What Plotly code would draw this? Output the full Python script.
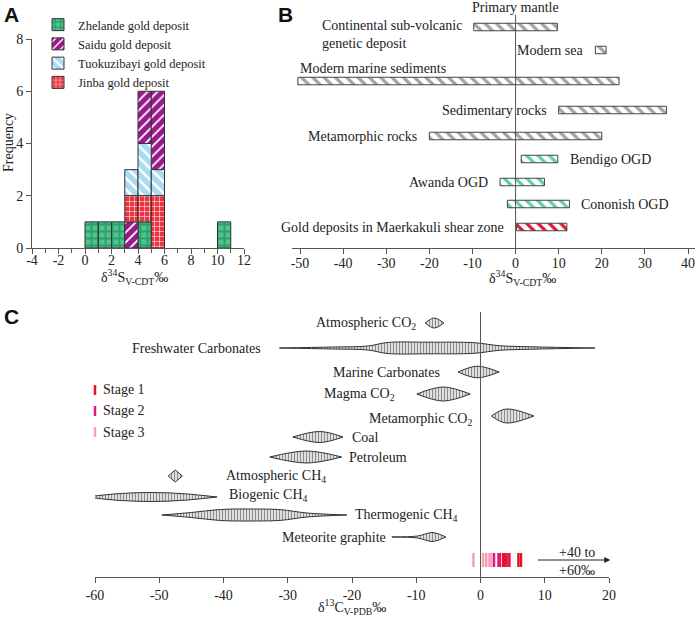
import plotly.graph_objects as go

W, H = 699, 622
SERIF = "Liberation Serif"
SANS = "Liberation Sans"
AX = "#555555"

def px(x):
    return x / W

def py(y):
    return 1 - y / H

# ---------------- Panel A data (histogram, bins of 1 permil) ----------------
bin_left = [0, 1, 2, 3, 4, 5, 6, 7, 8, 9, 10]
zhelande = [1, 1, 1, 0, 1, 0, 0, 0, 0, 0, 1]
saidu = [0, 0, 0, 1, 2, 3, 0, 0, 0, 0, 0]
tuokuzibayi = [0, 0, 0, 1, 2, 1, 0, 0, 0, 0, 0]
jinba = [0, 0, 0, 1, 1, 2, 0, 0, 0, 0, 0]
deposit_keys = ["Zhelande", "Saidu", "Tuokuzibayi", "Jinba"]
deposit_labels = ["Zhelande gold deposit", "Saidu gold deposit",
                  "Tuokuzibayi gold deposit", "Jinba gold deposit"]
counts = {"Zhelande": zhelande, "Saidu": saidu, "Tuokuzibayi": tuokuzibayi, "Jinba": jinba}
default_stack = ["Zhelande", "Jinba", "Tuokuzibayi", "Saidu"]
stack_override = {3: ["Saidu", "Jinba", "Tuokuzibayi", "Zhelande"]}
a_xticks = [-4, -2, 0, 2, 4, 6, 8, 10, 12]
a_yticks = [0, 2, 4, 6, 8]

# ---------------- Panel B data (d34S ranges) ----------------
b_names = ["Continental sub-volcanic<br>genetic deposit", "Modern sea", "Modern marine sediments",
           "Sedimentary rocks", "Metamorphic rocks", "Bendigo OGD", "Awanda OGD",
           "Cononish OGD", "Gold deposits in Maerkakuli shear zone"]
b_min = [-9.7, 18.5, -50.5, 10.0, -20.0, 1.3, -3.6, -1.9, 0.2]
b_max = [9.7, 21.0, 24.0, 35.0, 20.0, 9.8, 6.7, 12.5, 11.9]
b_group = ["ref", "ref", "ref", "ref", "ref", "ogd", "ogd", "ogd", "this"]
b_xticks = [-50, -40, -30, -20, -10, 0, 10, 20, 30, 40]

# ---------------- Panel C data (d13C reservoirs) ----------------
c_names = ["Atmospheric CO<sub>2</sub>", "Freshwater Carbonates", "Marine Carbonates",
           "Magma CO<sub>2</sub>", "Metamorphic CO<sub>2</sub>", "Coal", "Petroleum",
           "Atmospheric CH<sub>4</sub>", "Biogenic CH<sub>4</sub>", "Thermogenic CH<sub>4</sub>",
           "Meteorite graphite"]
c_knots_x = [
    [-8.6, -7.2, -5.7],
    [-31.3, -23.0, -17.5, -14.5, -8.0, -1.0, 3.0, 8.0, 17.8],
    [-3.5, -0.5, 2.9],
    [-9.9, -5.8, -1.6],
    [1.7, 4.0, 8.3],
    [-29.2, -25.0, -21.4],
    [-32.8, -27.0, -21.6],
    [-48.6, -47.5, -46.4],
    [-61.5, -56.0, -51.0, -46.0, -41.0],
    [-49.6, -45.0, -40.5, -35.0, -31.0, -27.0, -20.8],
    [-13.8, -9.8, -7.4, -5.4],
]
c_knots_h = [
    [0, 5, 0],
    [0, 1.0, 2.0, 5.5, 5.8, 5.3, 2.3, 1.2, 0],
    [0, 5.8, 0],
    [0, 7, 0],
    [0, 7, 0],
    [0, 5.5, 0],
    [0, 6, 0],
    [0, 6, 0],
    [0, 3.5, 4.5, 3.2, 0],
    [0, 2.5, 5.5, 6, 5.3, 2.0, 0],
    [0, 1.0, 4.5, 0],
]
c_label_side = ["left", "left", "left", "left", "left", "right", "right", "right", "right", "right", "left"]
c_xticks = [-60, -50, -40, -30, -20, -10, 0, 10, 20]

stage_names = ["Stage 1", "Stage 2", "Stage 3"]
stage1 = [3.5, 3.8, 4.5, 5.9, 6.3]
stage2 = [2.1, 2.8, 3.0, 4.1]
stage3 = [-1.1, 0.4, 0.9, 1.4, 1.7]
stage_values = [stage1, stage2, stage3]

# ---------------- layout helpers (positions / styles) ----------------
b_row = [27, 50, 81, 110, 136, 159, 182, 204, 227]       # panel B row positions (px from top)
b_label_side = ["left", "left", "above", "left", "left", "right", "left", "right", "left"]
b_label_dy = [7, 0, -13, 0, 0, 0, 0, 0, 0]
c_row = [23, 48, 72, 94, 116, 137, 157, 176, 197, 215, 237]  # panel C row positions
c_label_dy = [0, 0, 0, 0, 3, 0, 0, 0, -2, 0, 0]
c_label_gap = [7, 16, 16, 20, 17, 7, 5, 42, 10, 6, 4]
stage_row = 260
stage_colors = ["#e5141e", "#e6157e", "#f5a3b3"]

dep_style = {
    "Zhelande": dict(bg="#4fc48d", fg="#2f9d6a", shape="+", size=7, sol=0.45),
    "Saidu": dict(bg="#98198c", fg="#ffffff", shape="/", size=7, sol=0.25),
    "Tuokuzibayi": dict(bg="#a9dcf3", fg="#ffffff", shape="\\", size=8, sol=0.3),
    "Jinba": dict(bg="#ee3340", fg="#ffffff", shape="+", size=5, sol=0.2),
}

fig = go.Figure()

# ---- Panel A bars ----
bases = {k: [0] * len(bin_left) for k in deposit_keys}
for i in range(len(bin_left)):
    cum = 0
    for k in stack_override.get(bin_left[i], default_stack):
        bases[k][i] = cum
        cum += counts[k][i]

for k, lab in zip(deposit_keys, deposit_labels):
    xs, ys, bs = [], [], []
    for i, c in enumerate(counts[k]):
        if c > 0:
            xs.append(bin_left[i] + 0.5)
            ys.append(c)
            bs.append(bases[k][i])
    st = dep_style[k]
    fig.add_trace(go.Bar(
        x=xs, y=ys, base=bs, width=1, name=lab, xaxis="x", yaxis="y",
        marker=dict(color=st["bg"], line=dict(color="#333333", width=1),
                    pattern=dict(shape=st["shape"], fgcolor=st["fg"], bgcolor=st["bg"],
                                 size=st["size"], solidity=st["sol"], fillmode="replace")),
        legend="legend", showlegend=True,
    ))

# ---- Panel B bars ----
grp_col = {"ref": "#a3a3a3", "ogd": "#5dcfae", "this": "#e0163c"}
fig.add_trace(go.Bar(
    y=b_row, x=[mx - mn for mn, mx in zip(b_min, b_max)], base=b_min, orientation="h",
    width=7.5, xaxis="x2", yaxis="y2", showlegend=False,
    marker=dict(color=[grp_col[g] for g in b_group], line=dict(color="#444444", width=1),
                pattern=dict(shape="\\", fgcolor="#ffffff", bgcolor=[grp_col[g] for g in b_group],
                             size=8, solidity=0.4, fillmode="replace")),
))

# ---- Panel C shapes ----
for name, xs, hs, yc in zip(c_names, c_knots_x, c_knots_h, c_row):
    shp = "linear" if ("Atmospheric CH" in name) else "spline"
    fig.add_trace(go.Scatter(
        x=xs, y=[yc + h for h in hs], mode="lines", line=dict(color="#333333", width=1, shape=shp),
        xaxis="x3", yaxis="y3", showlegend=False, hoverinfo="skip"))
    fig.add_trace(go.Scatter(
        x=xs, y=[yc - h for h in hs], mode="lines", line=dict(color="#333333", width=1, shape=shp),
        fill="tonexty", fillcolor="#e4e4e4",
        fillpattern=dict(shape="|", fgcolor="#8c8c8c", bgcolor="#e8e8e8", size=3, solidity=0.4),
        xaxis="x3", yaxis="y3", showlegend=False, hoverinfo="skip"))

for vals, col in zip(stage_values, stage_colors):
    fig.add_trace(go.Scatter(
        x=vals, y=[stage_row] * len(vals), mode="markers", xaxis="x3", yaxis="y3",
        marker=dict(symbol="line-ns", size=10, line=dict(color=col, width=2.5), color=col),
        showlegend=False, hoverinfo="skip"))

annotations = []
tf = dict(family=SERIF, size=14, color="#222222")

# Panel B labels
for name, mn, mx, yr, side, dy in zip(b_names, b_min, b_max, b_row, b_label_side, b_label_dy):
    if side == "left":
        annotations.append(dict(x=mn, y=yr + dy, xref="x2", yref="y2", text=name, showarrow=False,
                                xanchor="right", yanchor="middle", xshift=-10, align="left", font=tf))
    elif side == "right":
        annotations.append(dict(x=mx, y=yr + dy, xref="x2", yref="y2", text=name, showarrow=False,
                                xanchor="left", yanchor="middle", xshift=10, font=tf))
    else:
        annotations.append(dict(x=mn, y=yr + dy, xref="x2", yref="y2", text=name, showarrow=False,
                                xanchor="left", yanchor="middle", font=tf))
annotations.append(dict(x=0, y=7, xref="x2", yref="y2", text="Primary mantle", showarrow=False,
                        xanchor="center", yanchor="middle", font=tf))

# Panel C labels
for name, xs, yr, side, dy, gap in zip(c_names, c_knots_x, c_row, c_label_side, c_label_dy, c_label_gap):
    if side == "left":
        annotations.append(dict(x=xs[0], y=yr + dy, xref="x3", yref="y3", text=name, showarrow=False,
                                xanchor="right", yanchor="middle", xshift=-gap, font=tf))
    else:
        annotations.append(dict(x=xs[-1], y=yr + dy, xref="x3", yref="y3", text=name, showarrow=False,
                                xanchor="left", yanchor="middle", xshift=gap, font=tf))

# arrow (+40 to +60 permil)
annotations.append(dict(x=20.2, y=stage_row, ax=8.7, ay=stage_row, xref="x3", yref="y3",
                        axref="x3", ayref="y3", text="", showarrow=True, arrowhead=2,
                        arrowsize=1.2, arrowwidth=1, arrowcolor="#222222"))
annotations.append(dict(x=15, y=stage_row - 8, xref="x3", yref="y3", text="+40 to", showarrow=False,
                        xanchor="center", yanchor="middle", font=tf))
annotations.append(dict(x=15, y=stage_row + 10, xref="x3", yref="y3", text="+60‰", showarrow=False,
                        xanchor="center", yanchor="middle", font=tf))

# stage legend (manual)
shapes = []
for i, (nm, col) in enumerate(zip(stage_names, stage_colors)):
    yy = [390, 411, 432][i]
    shapes.append(dict(type="line", xref="paper", yref="paper", x0=px(95), x1=px(95),
                       y0=py(yy - 5), y1=py(yy + 5), line=dict(color=col, width=2.5)))
    annotations.append(dict(x=px(101), y=py(yy), xref="paper", yref="paper", text=nm, showarrow=False,
                            xanchor="left", yanchor="middle", font=tf))

# zero lines
shapes.append(dict(type="line", xref="x2", yref="y2", x0=0, x1=0, y0=15, y1=248,
                   line=dict(color=AX, width=1)))
shapes.append(dict(type="line", xref="x3", yref="y3", x0=0, x1=0, y0=12, y1=277,
                   line=dict(color=AX, width=1)))

# axis titles
annotations.append(dict(x=px(134), y=py(277), xref="paper", yref="paper",
                        text="δ<sup>34</sup>S<sub>V-CDT</sub>‰", showarrow=False, font=tf,
                        xanchor="center", yanchor="middle"))
annotations.append(dict(x=px(522), y=py(278), xref="paper", yref="paper",
                        text="δ<sup>34</sup>S<sub>V-CDT</sub>‰", showarrow=False, font=tf,
                        xanchor="center", yanchor="middle"))
annotations.append(dict(x=px(352), y=py(607), xref="paper", yref="paper",
                        text="δ<sup>13</sup>C<sub>V-PDB</sub>‰", showarrow=False, font=tf,
                        xanchor="center", yanchor="middle"))
annotations.append(dict(x=px(8), y=py(143), xref="paper", yref="paper", text="Frequency",
                        showarrow=False, font=tf, textangle=-90, xanchor="center", yanchor="middle"))

# panel letters
for letter, (lx, ly) in zip(["A", "B", "C"], [(2, 1), (276, 1), (2, 303)]):
    annotations.append(dict(x=px(lx), y=py(ly), xref="paper", yref="paper", text="<b>%s</b>" % letter,
                            showarrow=False, xanchor="left", yanchor="top",
                            font=dict(family=SANS, size=21, color="#111111")))

axis_common = dict(showline=True, linecolor=AX, linewidth=1, ticks="outside", ticklen=5,
                   tickcolor=AX, showgrid=False, zeroline=False, automargin=False,
                   tickfont=dict(family=SERIF, size=14, color="#222222"))

def tt(vals):
    return [str(v) for v in vals]

fig.update_layout(
    template="none",
    width=W, height=H, margin=dict(l=0, r=0, t=0, b=0, autoexpand=False),
    font=dict(family=SERIF, size=14, color="#222222"),
    paper_bgcolor="white", plot_bgcolor="white", barmode="overlay",
    xaxis=dict(domain=[px(32), px(244)], range=[-4, 12], anchor="y",
               tickvals=a_xticks, ticktext=tt(a_xticks), ticklabelstandoff=-6,
               minor=dict(ticks="outside", ticklen=4, tickcolor=AX, dtick=1, tick0=0), **axis_common),
    yaxis=dict(domain=[py(248), py(39)], range=[0, 8], anchor="x",
               tickvals=a_yticks, ticktext=tt(a_yticks), **axis_common),
    xaxis2=dict(domain=[px(292), px(695)], range=[-51.86, 41.62], anchor="y2",
                tickvals=b_xticks, ticktext=tt(b_xticks), ticklabelstandoff=-3, **axis_common),
    yaxis2=dict(domain=[py(248), py(0)], range=[248, 0], anchor="x2", visible=False, automargin=False),
    xaxis3=dict(domain=[px(95), px(609)], range=[-60, 20], anchor="y3",
                tickvals=c_xticks, ticktext=tt(c_xticks), **axis_common),
    yaxis3=dict(domain=[py(577), py(300)], range=[277, 0], anchor="x3", visible=False, automargin=False),
    legend=dict(x=px(38), y=py(10), xanchor="left", yanchor="top", bgcolor="rgba(0,0,0,0)",
                font=dict(family=SERIF, size=12.5, color="#222222"), tracegroupgap=0,
                traceorder="normal", borderwidth=0),
    annotations=annotations, shapes=shapes,
)

fig.write_html("out.html", config={"displayModeBar": False},
               post_script="document.body.style.margin='0px';")
